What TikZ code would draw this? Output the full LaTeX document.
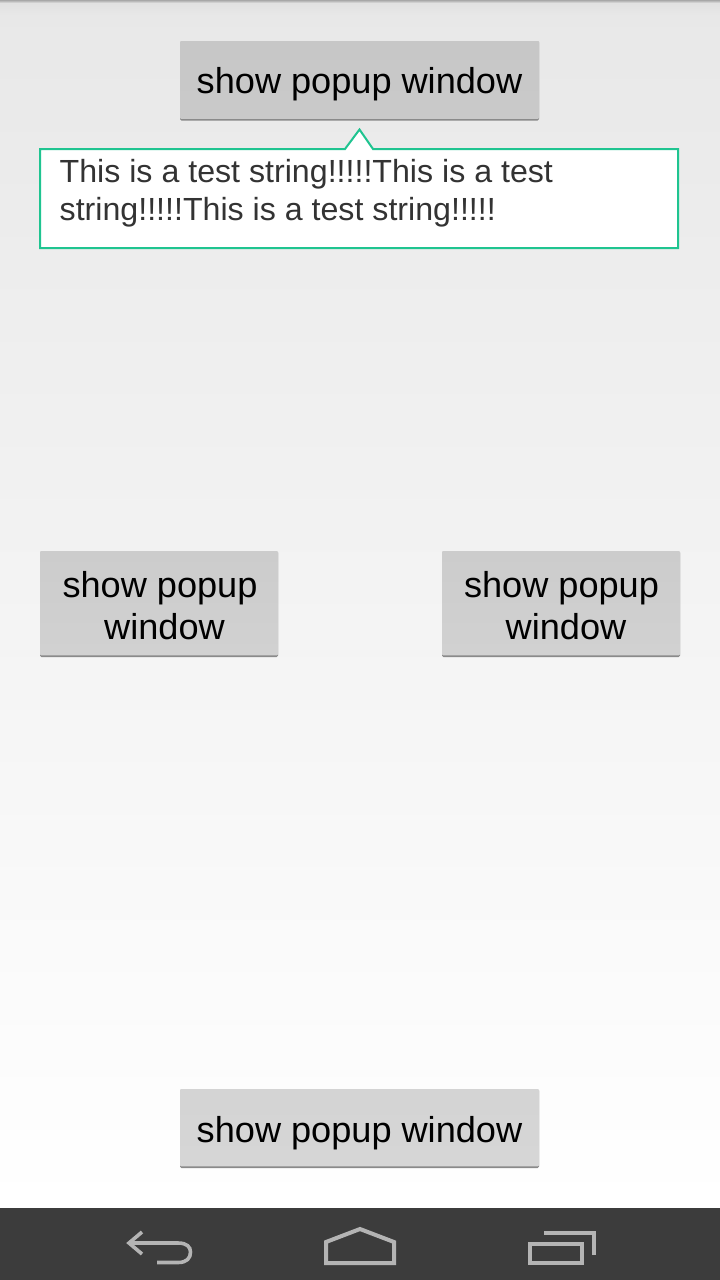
\documentclass[tikz,border=0pt]{standalone}
\usepackage{fontspec}
\setmainfont{Liberation Sans}
\newfontfamily\btnfont[FakeStretch=1.004]{Liberation Sans}
\newfontfamily\popfont[FakeStretch=1.005]{Liberation Sans}
\usetikzlibrary{shadings}
\definecolor{navbar}{HTML}{3C3C3C}
\definecolor{navicon}{HTML}{B4B4B4}
\definecolor{popgreen}{HTML}{1FC490}
\definecolor{btnedge}{HTML}{8A8A8A}
\definecolor{bgtop}{HTML}{E8E8E8}
\definecolor{stripdark}{HTML}{A8A8A8}
\definecolor{stripmid}{HTML}{E2E2E2}
\tikzset{
  btnlabel/.style={inner sep=0pt,align=center,text=black,font=\btnfont\fontsize{36}{42}\selectfont},
  poplabel/.style={inner sep=0pt,anchor=base west,text=black!80,font=\popfont\fontsize{32}{38}\selectfont},
  navline/.style={draw=navicon,line width=4pt,fill=none},
}
\newcommand{\btn}[6]{% x0 y0 x1 y1 top bottom
  \fill[btnedge,rounded corners=1.5pt] (#1,#2) rectangle (#3,#4);
  \shade[top color=#5,bottom color=#6,rounded corners=1pt] (#1,#2) rectangle (#3,#4-1.6);
}
\begin{document}
\begin{tikzpicture}[x=1pt,y=-1pt]
\useasboundingbox (0,0) rectangle (720,1280);
\shade[top color=bgtop,bottom color=white] (0,0) rectangle (720,1208);
\shade[top color=stripdark,bottom color=stripmid] (0,0) rectangle (720,3);
\shade[top color=stripmid,bottom color=bgtop] (0,3) rectangle (720,16);
\fill[navbar] (0,1208) rectangle (720,1280);
% buttons
\btn{180}{41}{539}{120.5}{black!22}{black!21}
\node[btnlabel] (b1) at (359.5,84.5) {show popup window};
\btn{40}{551}{278}{657}{black!20}{black!18}
\node[btnlabel] (b2) at (160,606) {show popup\\\hspace*{9pt}window};
\btn{442}{551}{680}{657}{black!20}{black!18}
\node[btnlabel] (b3) at (561.5,606) {show popup\\\hspace*{9pt}window};
\btn{180}{1089}{539}{1168}{black!17}{black!16}
\node[btnlabel] (b4) at (359.5,1133.5) {show popup window};
% popup
\draw[popgreen,fill=white,line width=2pt,line join=miter]
  (40,149) -- (345,149) -- (359.5,129.5) -- (373,149) -- (678,149) -- (678,248) -- (40,248) -- cycle;
\node[poplabel] (t1) at (59.5,182) {This is a test string!!!!!This is a test};
\node[poplabel] (t2) at (59.5,220) {string!!!!!This is a test string!!!!!};
% nav icons
\draw[navline,line width=3.6pt] (142,1232) -- (129,1243) -- (142,1254);
\draw[navline,line width=3.6pt] (129,1243) -- (178,1243) .. controls (187,1243) and (190.5,1247) .. (190.5,1252) .. controls (190.5,1258) and (187,1262.5) .. (178,1262.5) -- (157,1262.5);
\draw[navline,line join=miter] (326,1263) -- (326,1242) -- (360,1229) -- (394,1242) -- (394,1263) -- cycle;
\draw[navline] (530,1244) rectangle (582,1263);
\draw[navline] (544,1233) -- (594,1233) -- (594,1255);
\end{tikzpicture}
\end{document}
